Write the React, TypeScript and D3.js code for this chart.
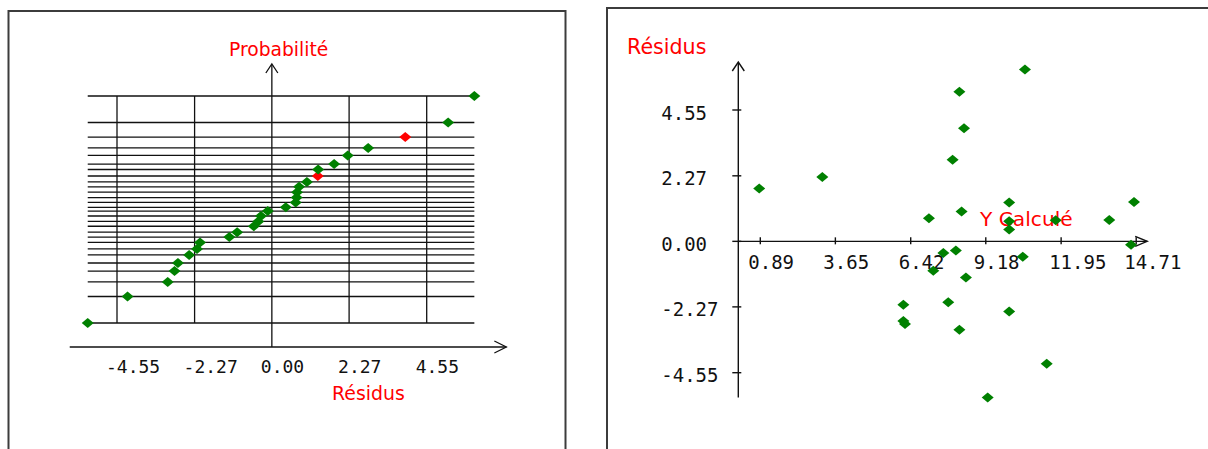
import React from 'react';
import * as d3 from 'd3';

// residuals sorted ascending, with their normal score and fitted value
const residus = [-5.41, -4.24, -3.06, -2.86, -2.76, -2.43, -2.2, -2.11, -1.25, -1.02, -0.53, -0.4, -0.32, -0.12,
  0.41, 0.7, 0.73, 0.74, 0.8, 1.03, 1.35, 1.36, 1.83, 2.23, 2.83, 3.92, 5.18, 5.95];
const probabilites = [-2.1, -1.61, -1.34, -1.14, -0.99, -0.84, -0.73, -0.61, -0.51, -0.42, -0.31, -0.22, -0.12, -0.03,
  0.04, 0.13, 0.22, 0.32, 0.42, 0.51, 0.62, 0.74, 0.84, 1.0, 1.14, 1.34, 1.61, 2.1];
const yCalcules = [9.25, 11.42, 8.21, 6.21, 6.15, 10.04, 6.15, 7.8, 8.45, 7.25, 10.54, 7.62, 8.08, 14.52,
  10.04, 10.04, 11.75, 13.72, 7.09, 8.29, 10.04, 14.63, 0.85, 3.17, 7.96, 8.38, 8.21, 10.62];
const pointsSignales = [20, 25]; // drawn red on the probability plot

const graduationsResidus = [-4.55, -2.27, 0, 2.27, 4.55];
const graduationsYCalcule = [0.89, 3.65, 6.42, 9.18, 11.95, 14.71];

const VERT = '#008000';
const ROUGE = '#ff0000';
const TRAIT = '#111';
const CADRE = '#3c3c3c';
const MONO = '"DejaVu Sans Mono", monospace';
const SANS = '"DejaVu Sans", sans-serif';
const losange = 'M0,-5L6,0L0,5L-6,0Z';

const fmt = (v: number) => v.toFixed(2);

export default function App() {
  // --- left: normal probability plot of residuals
  const xL = d3.scaleLinear().domain(d3.extent(graduationsResidus) as [number, number]).range([117, 426.7]);
  const yL = d3.scaleLinear().domain([-2.1, 2.1]).range([323, 96]);
  const rMin = d3.min(residus)!;
  const rMax = d3.max(residus)!;
  const zMin = d3.min(probabilites)!;
  const zMax = d3.max(probabilites)!;
  const axeXL = yL(zMin) + 24;
  const x0L = xL(0);

  // --- right: residuals vs fitted values
  const xR = d3.scaleLinear().domain(d3.extent(graduationsYCalcule) as [number, number]).range([760.3, 1136.2]);
  const yR = d3.scaleLinear().domain(d3.extent(graduationsResidus) as [number, number]).range([372.7, 110]);
  const axeYR = xR(graduationsYCalcule[0]) - 22;
  const y0R = yR(0);
  const finXR = xR(graduationsYCalcule[graduationsYCalcule.length - 1]) + 11;

  return (
    <div style={{ position: 'fixed', left: 0, top: 0 }}>
      <svg width={1208} height={449} style={{ display: 'block', background: '#fff' }}>
        {/* left panel */}
        <rect x={8.5} y={11} width={557} height={470} fill="none" stroke={CADRE} strokeWidth={2} />
        <g stroke={TRAIT} strokeWidth={1.3}>
          {probabilites.map((z, i) => (
            <line key={'h' + i} x1={xL(rMin)} x2={xL(rMax)} y1={yL(z)} y2={yL(z)} />
          ))}
          {graduationsResidus.filter(t => t !== 0).map(t => (
            <line key={'v' + t} x1={xL(t)} x2={xL(t)} y1={yL(zMax)} y2={yL(zMin)} />
          ))}
          <line x1={x0L} x2={x0L} y1={65} y2={axeXL} />
          <line x1={xL(rMin) - 18} x2={xL(rMax) + 32} y1={axeXL} y2={axeXL} />
          <polyline fill="none" points={`${x0L - 6},73 ${x0L},64 ${x0L + 6},73`} />
          <polyline fill="none" points={`${xL(rMax) + 20},${axeXL - 6} ${xL(rMax) + 32},${axeXL} ${xL(rMax) + 20},${axeXL + 6}`} />
        </g>
        <g fontFamily={MONO} fontSize={18} fill={TRAIT}>
          {graduationsResidus.map(t => (
            <text key={'tl' + t} x={xL(t) - 11} y={373}>{fmt(t)}</text>
          ))}
        </g>
        <text x={229} y={56} fontFamily={SANS} fontSize={18.7} fill={ROUGE}>Probabilité</text>
        <text x={332} y={400} fontFamily={SANS} fontSize={18.9} fill={ROUGE}>Résidus</text>
        {residus.map((r, i) => (
          <path key={'pl' + i} d={losange} transform={`translate(${xL(r)},${yL(probabilites[i])})`}
            fill={pointsSignales.includes(i) ? ROUGE : VERT} />
        ))}

        {/* right panel */}
        <rect x={607} y={8} width={700} height={500} fill="none" stroke={CADRE} strokeWidth={2} />
        <g stroke={TRAIT} strokeWidth={1.4}>
          <line x1={axeYR} x2={axeYR} y1={63} y2={yR(rMin)} />
          <line x1={axeYR} x2={finXR} y1={y0R} y2={y0R} />
          {graduationsResidus.map(t => (
            <line key={'ty' + t} x1={axeYR - 6} x2={axeYR + 3} y1={yR(t)} y2={yR(t)} />
          ))}
          {graduationsYCalcule.map(t => (
            <line key={'tx' + t} x1={xR(t)} x2={xR(t)} y1={y0R - 4} y2={y0R + 3} />
          ))}
          <polyline fill="none" points={`${axeYR - 6},71 ${axeYR},62 ${axeYR + 6},71`} />
          <polyline fill="none" points={`${finXR - 12},${y0R - 5} ${finXR},${y0R} ${finXR - 12},${y0R + 5}`} />
        </g>
        <g fontFamily={MONO} fontSize={19} fill={TRAIT}>
          {graduationsResidus.map(t => (
            <text key={'ly' + t} x={axeYR - 77} y={yR(t) + 9.5}>{fmt(t)}</text>
          ))}
          {graduationsYCalcule.map(t => (
            <text key={'lx' + t} x={xR(t) - 12} y={y0R + 28}>{fmt(t)}</text>
          ))}
        </g>
        <text x={627} y={54} fontFamily={SANS} fontSize={20.6} fill={ROUGE}>Résidus</text>
        <text x={980} y={226} fontFamily={SANS} fontSize={20.2} fill={ROUGE}>Y Calculé</text>
        {residus.map((r, i) => (
          <path key={'pr' + i} d={losange} transform={`translate(${xR(yCalcules[i])},${yR(r)})`} fill={VERT} />
        ))}
      </svg>
    </div>
  );
}
